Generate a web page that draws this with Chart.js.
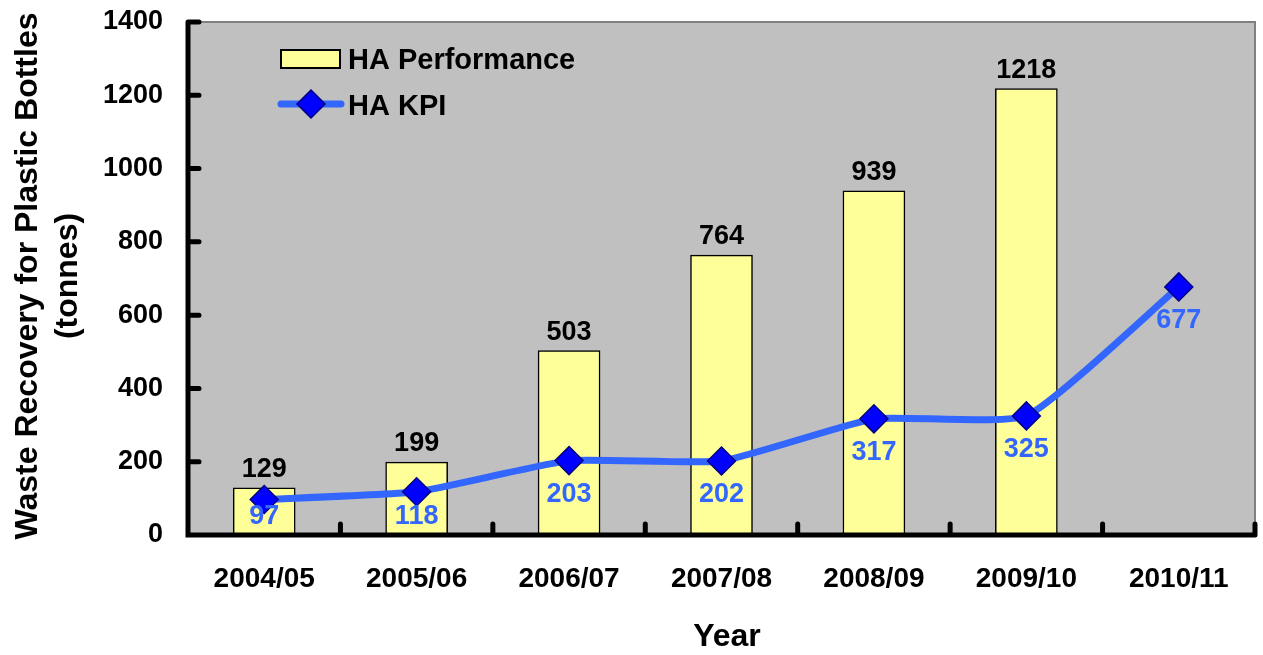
<!DOCTYPE html>
<html>
<head>
<meta charset="utf-8">
<script src="https://cdn.jsdelivr.net/npm/chart.js@4.4.0/dist/chart.umd.min.js"></script>
<style>
  html, body { margin: 0; padding: 0; background: #fff; }
  #wrap { width: 1263px; height: 655px; position: relative; }
</style>
</head>
<body>
<div id="wrap"><canvas id="wasteChart"></canvas></div>
<script>
// values
const years = ['2004/05', '2005/06', '2006/07', '2007/08', '2008/09', '2009/10', '2010/11'];
const performance = [129, 199, 503, 764, 939, 1218, null];
const kpi = [97, 118, 203, 202, 317, 325, 677];
const yMax = 1400;
const yStep = 200;

const FONT = '"Liberation Sans", Arial, sans-serif';
const KPI_BLUE = '#3366FF';

// grey plot area, thick axes with round caps and inside tick marks
const framePlugin = {
  id: 'frame',
  beforeDatasetsDraw(chart) {
    const { ctx, chartArea: a } = chart;
    ctx.save();
    ctx.fillStyle = '#C0C0C0';
    ctx.fillRect(a.left, a.top, a.right - a.left, a.bottom - a.top);
    ctx.strokeStyle = '#808080';
    ctx.lineWidth = 2;
    ctx.beginPath();
    ctx.moveTo(a.left, a.top);
    ctx.lineTo(a.right, a.top);
    ctx.lineTo(a.right, a.bottom);
    ctx.stroke();
    ctx.restore();
  },
  afterDatasetsDraw(chart) {
    const { ctx, chartArea: a, scales } = chart;
    ctx.save();
    ctx.strokeStyle = '#000';
    ctx.lineWidth = 5;
    ctx.lineCap = 'round';
    ctx.beginPath();
    ctx.moveTo(a.left, a.top);
    ctx.lineTo(a.left, a.bottom);
    ctx.lineTo(a.right, a.bottom);
    // y tick marks, pointing into the plot
    for (let v = 0; v <= yMax; v += yStep) {
      const y = scales.y.getPixelForValue(v);
      ctx.moveTo(a.left, y);
      ctx.lineTo(a.left + 11, y);
    }
    // x tick marks between categories
    const w = (a.right - a.left) / years.length;
    for (let i = 0; i <= years.length; i++) {
      const x = a.left + i * w;
      ctx.moveTo(x, a.bottom);
      ctx.lineTo(x, a.bottom - 11);
    }
    ctx.stroke();
    ctx.restore();
  }
};

// value labels, legend, axis titles
const textPlugin = {
  id: 'texts',
  afterDraw(chart) {
    const { ctx, chartArea: a } = chart;
    ctx.save();
    ctx.font = 'bold 27px ' + FONT;
    ctx.textAlign = 'center';
    ctx.textBaseline = 'alphabetic';

    // bar labels
    ctx.fillStyle = '#000';
    chart.getDatasetMeta(1).data.forEach((bar, i) => {
      if (performance[i] == null) return;
      ctx.fillText(String(performance[i]), bar.x, bar.y - 11);
    });

    // KPI labels under the points
    ctx.fillStyle = KPI_BLUE;
    ctx.textBaseline = 'middle';
    chart.getDatasetMeta(0).data.forEach((pt, i) => {
      const y = Math.min(pt.y + 34, a.bottom - 18);
      ctx.fillText(String(kpi[i]), pt.x, y);
    });

    // legend
    ctx.textAlign = 'left';
    ctx.fillStyle = '#FFFF99';
    ctx.fillRect(281, 50, 59, 18);
    ctx.strokeStyle = '#000';
    ctx.lineWidth = 2;
    ctx.strokeRect(281, 50, 59, 18);
    ctx.fillStyle = '#000';
    ctx.font = 'bold 29px ' + FONT;
    ctx.fillText('HA Performance', 348, 61);

    ctx.strokeStyle = KPI_BLUE;
    ctx.lineWidth = 7;
    ctx.lineCap = 'round';
    ctx.beginPath();
    ctx.moveTo(281, 104);
    ctx.lineTo(341, 104);
    ctx.stroke();
    ctx.beginPath();
    ctx.moveTo(311, 90);
    ctx.lineTo(325, 104);
    ctx.lineTo(311, 118);
    ctx.lineTo(297, 104);
    ctx.closePath();
    ctx.fillStyle = '#0000FF';
    ctx.fill();
    ctx.strokeStyle = '#000080';
    ctx.lineWidth = 1.5;
    ctx.stroke();
    ctx.fillStyle = '#000';
    ctx.fillText('HA KPI', 348, 107);

    // x title
    ctx.textAlign = 'center';
    ctx.font = 'bold 32px ' + FONT;
    ctx.fillText('Year', 727, 637);

    // y title, two lines
    ctx.translate(0, 276);
    ctx.rotate(-Math.PI / 2);
    ctx.textBaseline = 'alphabetic';
    ctx.font = 'bold 32px ' + FONT;
    ctx.fillText('Waste Recovery for Plastic Bottles', 0, 37);
    ctx.fillText('(tonnes)', 0, 77);
    ctx.restore();
  }
};

new Chart(document.getElementById('wasteChart'), {
  type: 'bar',
  data: {
    labels: years,
    datasets: [
      {
        type: 'line',
        label: 'HA KPI',
        data: kpi,
        order: 0,
        borderColor: KPI_BLUE,
        borderWidth: 7,
        tension: 0.15,
        pointStyle: 'rectRot',
        pointRadius: 14,
        pointHoverRadius: 14,
        pointBackgroundColor: '#0000FF',
        pointBorderColor: '#000080',
        pointBorderWidth: 1.5,
        clip: false
      },
      {
        label: 'HA Performance',
        data: performance,
        order: 1,
        backgroundColor: '#FFFF99',
        borderColor: '#000',
        borderWidth: 1.5,
        borderSkipped: false,
        barThickness: 62
      }
    ]
  },
  options: {
    responsive: true,
    maintainAspectRatio: false,
    animation: false,
    layout: { autoPadding: false, padding: { left: 0, top: 22, right: 8, bottom: 0 } },
    plugins: {
      legend: { display: false },
      tooltip: { enabled: false }
    },
    scales: {
      x: {
        grid: { display: false, drawTicks: false },
        border: { display: false },
        ticks: { color: '#000', font: { family: FONT, size: 28, weight: 'bold' }, padding: 27, maxRotation: 0 },
        afterFit: s => { s.height = 120; s.paddingLeft = 0; s.paddingRight = 0; }
      },
      y: {
        min: 0,
        max: yMax,
        grid: { display: false, drawTicks: false },
        border: { display: false },
        ticks: {
          stepSize: yStep,
          color: '#000',
          font: { family: FONT, size: 27, weight: 'bold' },
          padding: 25,
          callback: v => String(v)
        },
        afterFit: s => { s.width = 188; s.paddingTop = 0; s.paddingBottom = 0; }
      }
    }
  },
  plugins: [framePlugin, textPlugin]
});
</script>
</body>
</html>
